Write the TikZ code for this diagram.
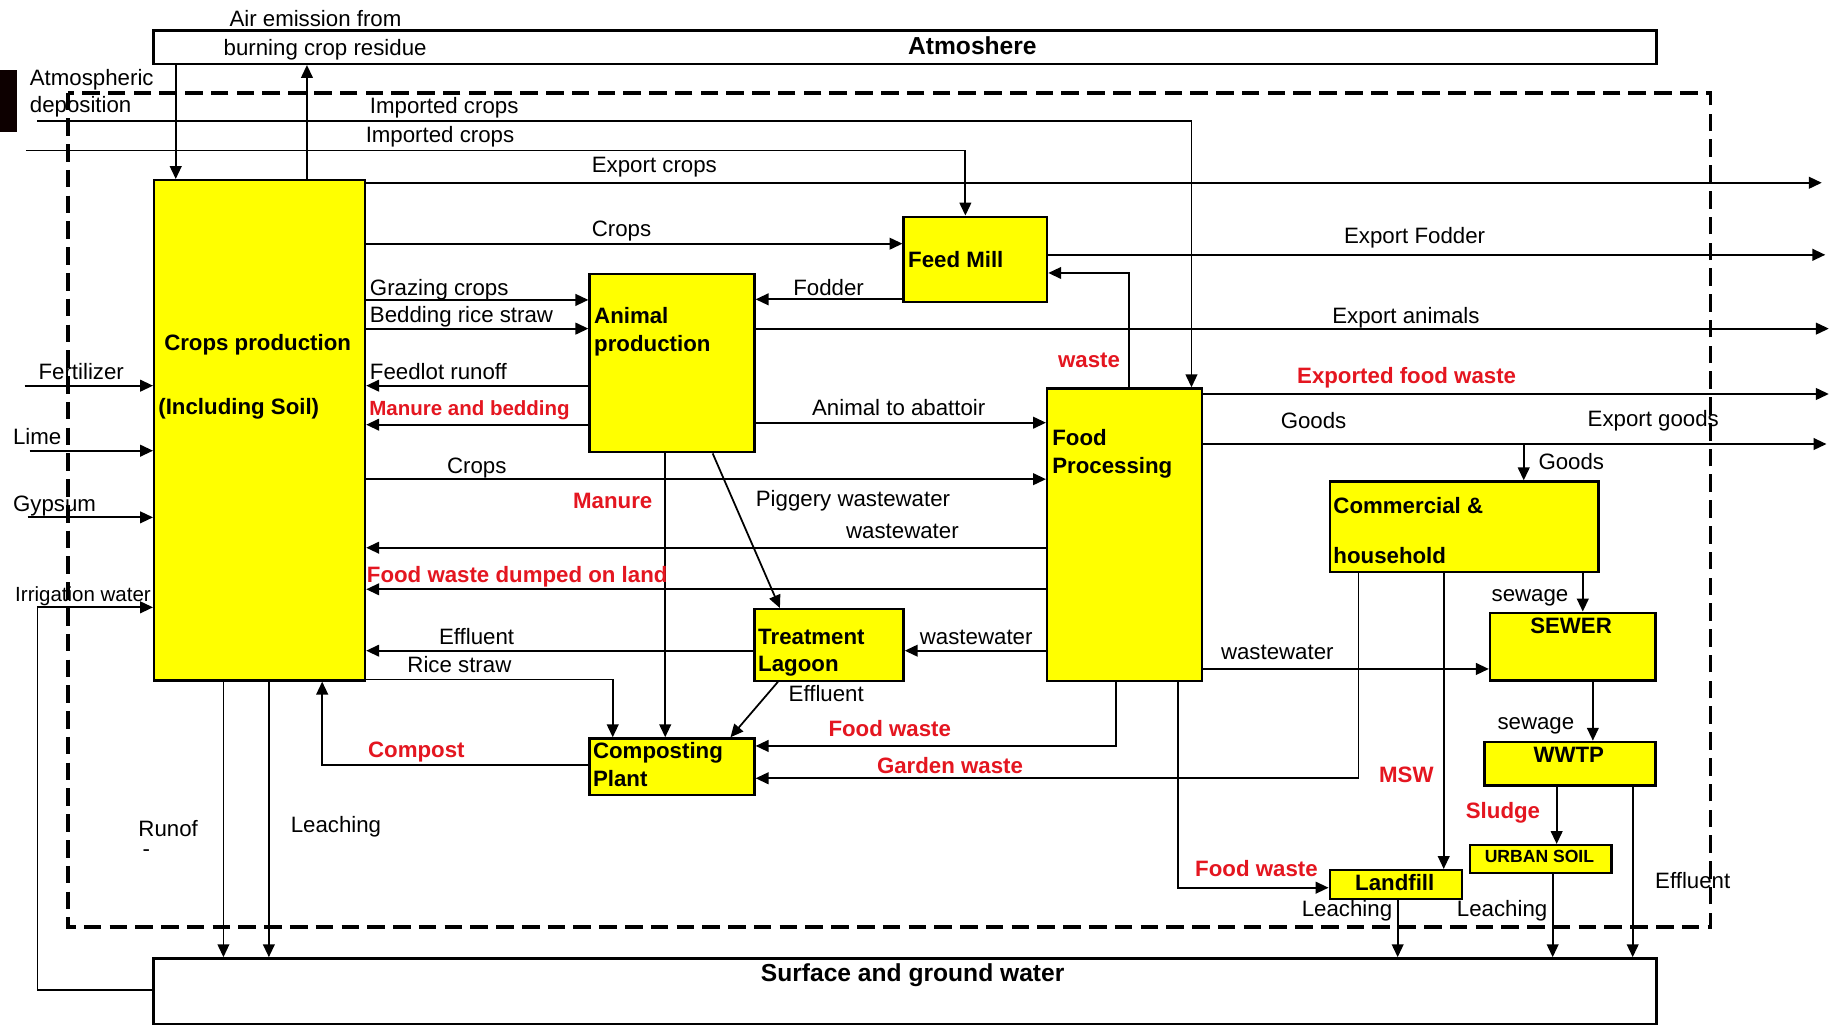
\documentclass[tikz,border=0pt]{standalone}
\usepackage{fontspec}
\setmainfont{Liberation Sans}
\usetikzlibrary{arrows.meta}
\definecolor{boxyellow}{RGB}{255,255,0}
\definecolor{flowred}{RGB}{228,22,32}
\begin{document}
\begin{tikzpicture}[x=1pt,y=-1pt,
  box/.style={draw, line width=2pt, inner sep=0pt, anchor=north west},
  ybox/.style={box, fill=boxyellow},
  wbox/.style={box, fill=white},
  flow/.style={line width=1.5pt, -{Triangle[length=11pt,width=10pt]}},
  plain/.style={line width=1.5pt},
  lbl/.style={font=\fontsize{19}{22}\selectfont, inner sep=0pt, anchor=base west},
  slbl/.style={lbl, font=\fontsize{17.5}{20}\selectfont},
  blbl/.style={lbl, font=\fontsize{19}{22}\selectfont\bfseries},
  rlbl/.style={blbl, text=flowred},
  srlbl/.style={lbl, font=\fontsize{17.5}{20}\selectfont\bfseries, text=flowred},
  biglbl/.style={lbl, font=\fontsize{21}{24}\selectfont\bfseries, anchor=base},
  boundary/.style={line width=3.4pt, dash pattern=on 15pt off 7pt}
]
\useasboundingbox (0,0) rectangle (1568,875);
\fill[white] (0,0) rectangle (1568,875);

% system boundary
\draw[boundary] (58,79) rectangle (1460,791.5);
\fill[black!95!red] (0,60) rectangle (14.2,113);

% compartments
\node[wbox, minimum width=1283pt, minimum height=28.5pt] (atm) at (130,25) {};
\node[wbox, minimum width=1283pt, minimum height=56pt] (water) at (130,817) {};
\node[ybox, minimum width=180pt, minimum height=427pt] (crops) at (130.6,152.8) {};
\node[ybox, minimum width=122.5pt, minimum height=73pt] (feed) at (770.3,184) {};
\node[ybox, minimum width=140.8pt, minimum height=152.2pt] (animal) at (502.2,232.8) {};
\node[ybox, minimum width=132.2pt, minimum height=249.6pt] (fp) at (892.8,330.6) {};
\node[ybox, minimum width=127.3pt, minimum height=61pt] (lagoon) at (643,519) {};
\node[ybox, minimum width=140.8pt, minimum height=48.4pt] (compost) at (502.2,629.3) {};
\node[ybox, minimum width=229.4pt, minimum height=77.4pt] (comm) at (1134,410) {};
\node[ybox, minimum width=141.2pt, minimum height=57.8pt] (sewer) at (1270.8,522) {};
\node[ybox, minimum width=146pt, minimum height=37.2pt] (wwtp) at (1266,632.2) {};
\node[ybox, minimum width=120.5pt, minimum height=23.6pt] (usoil) at (1254,720.4) {};
\node[ybox, minimum width=112.9pt, minimum height=24.5pt] (landfill) at (1134,741.7) {};

% free ends of flows crossing the boundary
\coordinate (imp1) at (32,103);
\coordinate (imp2) at (22,128.5);
\coordinate (fert) at (21,329.2);
\coordinate (lime) at (25.3,384.7);
\coordinate (gyps) at (23.6,441.6);
\coordinate (expcrops) at (1555,156);
\coordinate (expfod) at (1558,217.5);
\coordinate (expani) at (1561,280.5);
\coordinate (expfw) at (1561,336.3);
\coordinate (expgoods) at (1559,379);
\coordinate (gsplit) at (1300.6,379);

% atmosphere exchanges
\draw[flow] (atm.south -| 150,0) -- (crops.north -| 150,0);
\draw[flow] (crops.north -| 262,0) -- (atm.south -| 262,0);

% imports and external inputs
\draw[flow] (imp1) -| (fp.north -| 1017,0);
\draw[flow] (imp2) -| (feed.north -| 824,0);
\draw[flow] (fert) -- (crops.west |- fert);
\draw[flow] (lime) -- (crops.west |- lime);
\draw[flow] (gyps) -- (crops.west |- gyps);
\draw[flow] (water.west |- 0,845) -- (32,845) |- (crops.west |- 0,518.4);

% exports
\draw[flow] (crops.east |- expcrops) -- (expcrops);
\draw[flow] (feed.east |- expfod) -- (expfod);
\draw[flow] (animal.east |- expani) -- (expani);
\draw[flow] (fp.east |- expfw) -- (expfw);
\draw[flow] (fp.east |- expgoods) -- (expgoods);

% crops production
\draw[flow] (crops.east |- 0,208) -- (feed.west |- 0,208);
\draw[flow] (crops.east |- 0,256) -- (animal.west |- 0,256);
\draw[flow] (crops.east |- 0,280.5) -- (animal.west |- 0,280.5);
\draw[flow] (crops.east |- 0,409) -- (fp.west |- 0,409);
\draw[flow] (crops.east |- 0,580) -| (compost.north -| 523,0);
\draw[flow] (crops.south -| 190.7,0) -- (water.north -| 190.7,0);
\draw[flow] (crops.south -| 229.5,0) -- (water.north -| 229.5,0);

% feed mill and animals
\draw[flow] (feed.west |- 0,255.5) -- (animal.east |- 0,255.5);
\draw[flow] (fp.north -| 963.4,0) |- (feed.east |- 0,233);
\draw[flow] (animal.west |- 0,329.2) -- (crops.east |- 0,329.2);
\draw[flow] (animal.west |- 0,362.5) -- (crops.east |- 0,362.5);
\draw[flow] (animal.east |- 0,360.8) -- (fp.west |- 0,360.8);
\draw[flow] (animal.south -| 567.8,0) -- (compost.north -| 567.8,0);
\draw[flow] (animal.south -| 608.3,0) -- (lagoon.north -| 665.7,0);

% food processing
\draw[flow] (fp.west |- 0,467.5) -- (crops.east |- 0,467.5);
\draw[flow] (fp.west |- 0,503) -- (crops.east |- 0,503);
\draw[flow] (fp.west |- 0,555.4) -- (lagoon.east |- 0,555.4);
\draw[flow] (fp.south -| 952.6,0) |- (compost.east |- 0,636.7);
\draw[flow] (fp.south -| 1005.6,0) |- (landfill.west |- 0,757.7);
\draw[flow] (fp.east |- 0,571) -- (sewer.west |- 0,571);

% lagoon and composting
\draw[flow] (lagoon.west |- 0,555.4) -- (crops.east |- 0,555.4);
\draw[flow] (lagoon.south -| 664,0) -- (compost.north -| 623.5,0);
\draw[flow] (compost.west |- 0,653) -| (crops.south -| 275,0);

% urban side
\draw[flow] (gsplit) -- (comm.north -| gsplit);
\draw[flow] (comm.south -| 1351,0) -- (sewer.north -| 1351,0);
\draw[flow] (comm.south -| 1159.5,0) |- (compost.east |- 0,664.3);
\draw[flow] (comm.south -| 1232.3,0) -- (landfill.north -| 1232.3,0);
\draw[flow] (sewer.south -| 1359.6,0) -- (wwtp.north -| 1359.6,0);
\draw[flow] (wwtp.south -| 1328.7,0) -- (usoil.north -| 1328.7,0);
\draw[flow] (wwtp.south -| 1393.6,0) -- (water.north -| 1393.6,0);
\draw[flow] (usoil.south -| 1325.3,0) -- (water.north -| 1325.3,0);
\draw[flow] (landfill.south -| 1193,0) -- (water.north -| 1193,0);

% compartment titles
\node[biglbl] (tatm) at (830,46.4) {Atmoshere};
\node[biglbl] (twater) at (779,838) {Surface and ground water};
\node[blbl] (tcrops1) at (140,299) {Crops production};
\node[blbl] (tcrops2) at (135,354) {(Including Soil)};
\node[blbl] (tfeed) at (775,228) {Feed Mill};
\node[blbl] (tani1) at (507,276) {Animal};
\node[blbl] (tani2) at (507,300) {production};
\node[blbl] (tfp1) at (898,380) {Food};
\node[blbl] (tfp2) at (898,404) {Processing};
\node[blbl] (tlag1) at (647,550.5) {Treatment};
\node[blbl] (tlag2) at (647,573) {Lagoon};
\node[blbl] (tcomp1) at (506,647) {Composting};
\node[blbl] (tcomp2) at (506,671.5) {Plant};
\node[blbl] (tcomm1) at (1138,438) {Commercial \&};
\node[blbl] (tcomm2) at (1138,481) {household};
\node[blbl, anchor=base] (tsewer) at (1341,541) {SEWER};
\node[blbl, anchor=base] (twwtp) at (1339,651) {WWTP};
\node[blbl, anchor=base, font=\fontsize{15}{18}\selectfont\bfseries] (tusoil) at (1314,736.3) {URBAN SOIL};
\node[blbl, anchor=base] (tland) at (1190.5,760.2) {Landfill};

% flow labels
\node[lbl] (lair1) at (195.7,22.8) {Air emission from};
\node[lbl] (lair2) at (190.7,47) {burning crop residue};
\node[lbl] (ldep1) at (25.3,72.6) {Atmospheric};
\node[lbl] (ldep2) at (25.3,96) {deposition};
\node[lbl] (limp1) at (315.6,97) {Imported crops};
\node[lbl] (limp2) at (312,121.5) {Imported crops};
\node[lbl] (lexpc) at (505,147) {Export crops};
\node[lbl] (lcropsf) at (505,202) {Crops};
\node[lbl] (lexpf) at (1147,208) {Export Fodder};
\node[lbl] (lfodder) at (677,252) {Fodder};
\node[lbl] (lgraze) at (315.6,252) {Grazing crops};
\node[lbl] (lbed) at (315.6,275.5) {Bedding rice straw};
\node[lbl] (lexpa) at (1137,276) {Export animals};
\node[rlbl] (lwaste) at (903,314) {waste};
\node[rlbl] (lexpfw) at (1107,327) {Exported food waste};
\node[lbl] (lfert) at (32.7,324) {Fertilizer};
\node[lbl] (llime) at (11,379) {Lime};
\node[lbl] (lgyps) at (11,437) {Gypsum};
\node[lbl] (lfeedlot) at (315.6,324) {Feedlot runoff};
\node[srlbl] (lmanbed) at (315,355) {Manure and bedding};
\node[lbl] (labat) at (693,355) {Animal to abattoir};
\node[lbl] (lgoods1) at (1093,366) {Goods};
\node[lbl] (lexpg) at (1355,364) {Export goods};
\node[lbl] (lgoods2) at (1313,401) {Goods};
\node[lbl] (lcropsfp) at (381.4,404) {Crops};
\node[rlbl] (lmanure) at (489,434) {Manure};
\node[lbl] (lpig) at (645,432.5) {Piggery wastewater};
\node[lbl] (lww1) at (722,459.5) {wastewater};
\node[rlbl] (ldump) at (313,497) {Food waste dumped on land};
\node[lbl] (lsew1) at (1273,513) {sewage};
\node[slbl] (lirr) at (12.8,513.6) {Irrigation water};
\node[lbl] (lww2) at (785,550.5) {wastewater};
\node[lbl] (leff1) at (374.6,550.5) {Effluent};
\node[lbl] (lww3) at (1042,563.3) {wastewater};
\node[lbl] (lrice) at (347.6,574) {Rice straw};
\node[lbl] (leff2) at (673,599) {Effluent};
\node[lbl] (lsew2) at (1278,623) {sewage};
\node[rlbl] (lfw1) at (707,629) {Food waste};
\node[rlbl] (lcompost) at (314,646.4) {Compost};
\node[rlbl] (lgarden) at (748.4,660.6) {Garden waste};
\node[rlbl] (lmsw) at (1177,668) {MSW};
\node[rlbl] (lsludge) at (1251,698.5) {Sludge};
\node[lbl] (lleach1) at (248,711) {Leaching};
\node[lbl] (lrunof) at (118,714) {Runof};
\node[lbl] (lrunof2) at (121.5,731) {-};
\node[rlbl] (lfw2) at (1020,748.3) {Food waste};
\node[lbl] (leff3) at (1412.6,758) {Effluent};
\node[lbl] (lleach2) at (1111,782.4) {Leaching};
\node[lbl] (lleach3) at (1243.4,782.4) {Leaching};
\end{tikzpicture}
\end{document}
